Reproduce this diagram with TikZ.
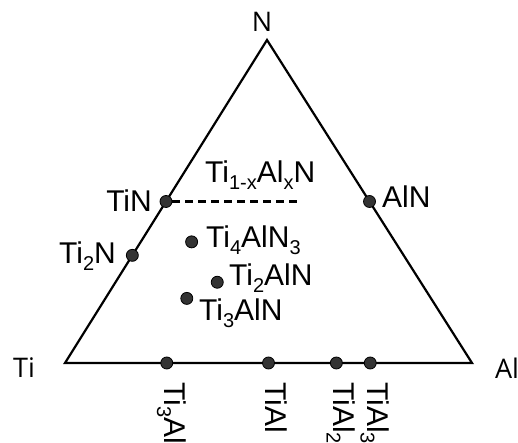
\documentclass[tikz,border=0pt]{standalone}
\usepackage{fontspec}
\setmainfont{Liberation Sans}
\newfontfamily\cantofont{Open Sans}
\usetikzlibrary{calc}
\newcommand{\ind}[1]{\raisebox{-7pt}{\fontsize{20}{20}\selectfont #1}}

\begin{document}
\begin{tikzpicture}[
    x=1pt, y=1pt,
    lado/.style={line width=2.2pt, line join=miter},
    ponto/.style={
        circle,
        draw=black,
        fill=black!80,
        line width=0.8pt,
        inner sep=0pt,
        minimum size=12pt
    },
    rotulo/.style={
        inner sep=0pt,
        text height=22pt,
        font=\fontsize{30}{34}\selectfont
    },
    canto/.style={
        inner sep=0pt,
        font=\cantofont\fontsize{27}{30}\selectfont
    },
    baixo/.style={rotulo, rotate=-90, anchor=mid west},
    tracejado/.style={line width=2.2pt, dash pattern=on 8pt off 5pt}
]
\useasboundingbox (0,0) rectangle (518,443);

% vertices
\coordinate (Ti) at (65,80);
\coordinate (Al) at (472,80);
\coordinate (N) at (267,403);

\draw[lado] (Ti) -- (Al) -- (N) -- cycle;

\node[canto] (lTi) at (24,75) {Ti};
\node[canto] (lAl) at (507,75) {Al};
\node[canto] (lN) at (262,421) {N};

% nitretos nas arestas
\node[ponto] (tin) at ($(Ti)!0.5!(N)$) {};
\node[ponto] (aln) at ($(Al)!0.5!(N)$) {};
\node[ponto] (ti2n) at ($(Ti)!0.3333!(N)$) {};

\coordinate (fim) at ($(tin)+(131,0)$);
\draw[tracejado] (tin) -- (fim);

\node[rotulo, anchor=base east] (ltin) at (152,231) {TiN};
\node[rotulo, anchor=base west] (laln) at (382,235) {AlN};
\node[rotulo, anchor=base east] (lti2n) at (116,179) {Ti\ind{2}N};
\node[rotulo, anchor=base west] (lsol) at (205,260) {Ti\ind{1-x}Al\ind{x}N};

% fases MAX
\node[ponto] (ti4aln3) at ($0.5*(Ti)+0.125*(Al)+0.375*(N)$) {};
\node[ponto] (ti2aln) at ($0.5*(Ti)+0.25*(Al)+0.25*(N)$) {};
\node[ponto] (ti3aln) at ($0.6*(Ti)+0.2*(Al)+0.2*(N)$) {};

\node[rotulo, anchor=base west] (lti4aln3) at (206,195) {Ti\ind{4}AlN\ind{3}};
\node[rotulo, anchor=base west] (lti2aln) at (229,157) {Ti\ind{2}AlN};
\node[rotulo, anchor=base west] (lti3aln) at (199,122) {Ti\ind{3}AlN};

% aluminetos
\node[ponto] (ti3al) at ($(Ti)!0.25!(Al)$) {};
\node[ponto] (tial) at ($(Ti)!0.5!(Al)$) {};
\node[ponto] (tial2) at ($(Ti)!0.6667!(Al)$) {};
\node[ponto] (tial3) at ($(Ti)!0.75!(Al)$) {};

\node[baixo] (lti3al) at ($(ti3al)+(0,-19)$) {Ti\ind{3}Al};
\node[baixo] (ltial) at ($(tial)+(0,-19)$) {TiAl};
\node[baixo] (ltial2) at ($(tial2)+(0,-19)$) {TiAl\ind{2}};
\node[baixo] (ltial3) at ($(tial3)+(0,-19)$) {TiAl\ind{3}};

\end{tikzpicture}
\end{document}
